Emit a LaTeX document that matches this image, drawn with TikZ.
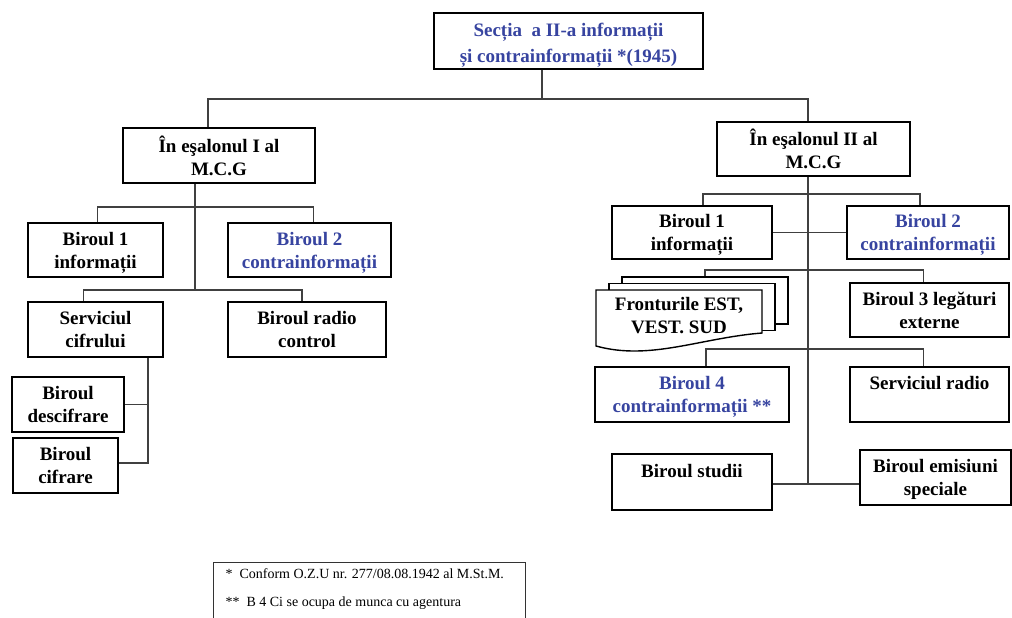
\documentclass[tikz,border=0pt]{standalone}
\usepackage{fontspec}
\setmainfont{Liberation Serif}
\definecolor{secblue}{RGB}{55,68,160}

\begin{document}
\begin{tikzpicture}[x=1pt, y=-1pt,
    every node/.style={align=center, font=\fontsize{19}{23}\selectfont\bfseries},
    unit/.style={draw, rectangle, line width=2pt, fill=white, text depth=0pt},
    ci/.style={text=secblue},
    link/.style={line width=1.1pt, draw=black!75},
    page/.style={draw, rectangle, line width=1.4pt, fill=white, minimum width=166, minimum height=47}
]
    \useasboundingbox (0,0) rectangle (1012,618);

    % Top: the section
    \node (sect) [unit, ci, minimum width=269, minimum height=56, font=\fontsize{19}{26}\selectfont\bfseries] at (568.5,41) {\rule{0pt}{17pt}Secția\ \ a II-a informații\\și contrainformații *(1945)};

    % Left: first echelon
    \node (esal1) [unit, minimum width=192, minimum height=55] at (219,155.5) {În eşalonul I al\\M.C.G};
    \node (b1L) [unit, minimum width=135, minimum height=54] at (95.5,250) {Biroul 1\\informații};
    \node (b2L) [unit, ci, minimum width=163, minimum height=54] at (309.5,250) {Biroul 2\\contrainformații};
    \node (serv) [unit, minimum width=135, minimum height=55] at (95.5,329.5) {Serviciul\\cifrului};
    \node (radioc) [unit, minimum width=158, minimum height=55] at (307,329.5) {Biroul radio\\control};
    \node (desc) [unit, minimum width=112, minimum height=55] at (68,404.5) {Biroul\\descifrare};
    \node (cifr) [unit, minimum width=105, minimum height=55] at (65.5,465.5) {Biroul\\cifrare};

    % Right: second echelon
    \node (esal2) [unit, minimum width=193, minimum height=54] at (813.5,149) {În eşalonul II al\\M.C.G};
    \node (b1R) [unit, minimum width=160, minimum height=53] at (692,232.5) {Biroul 1\\informații};
    \node (b2R) [unit, ci, minimum width=162, minimum height=53] at (928,232.5) {Biroul 2\\contrainformații};

    % Fronts: stack of pages
    \node (pageC) [page] at (705,300.5) {};
    \node (pageB) [page] at (692,307) {};
    \draw[line width=1.4pt, fill=white] (596,290) -- (762,290) -- (762,333)
        .. controls (700,338) and (650,361) .. (596,346) -- cycle;
    \node (front) [text depth=0pt] at (679,315) {Fronturile EST,\\VEST. SUD};

    \node (b3) [unit, minimum width=159, minimum height=54] at (929.5,310) {Biroul 3 legături\\externe};
    \node (b4) [unit, ci, minimum width=194, minimum height=55] at (692,394.5) {Biroul 4\\contrainformații **};
    \node (sradio) [unit, minimum width=159, minimum height=55] at (929.5,394.5) {Serviciul radio\\\mbox{}};
    \node (studii) [unit, minimum width=160, minimum height=56] at (692,482) {Biroul studii\\\mbox{}};
    \node (emis) [unit, minimum width=151, minimum height=55] at (935.5,477.5) {Biroul emisiuni\\speciale};

    % Junctions
    \coordinate (hub) at (542,99);
    \coordinate (jL) at (208,99);
    \coordinate (jR) at (808,99);
    \coordinate (jL1) at (195,207);
    \coordinate (jL2) at (195,290);
    \coordinate (jS) at (148,463);
    \coordinate (jC) at (808,484);
    \coordinate (r1) at (808,194);
    \coordinate (r2) at (808,270);
    \coordinate (r3) at (808,349);

    % Connect (top)
    \draw[link] (hub |- sect.south) -- (hub);
    \draw[link] (jL |- esal1.north) -- (jL) -- (jR) -- (jR |- esal2.north);

    % Connect (left)
    \draw[link] (jL1 |- esal1.south) -- (jL2);
    \draw[link] ([xshift=2]b1L.north) |- (jL1) -| ([xshift=4]b2L.north);
    \draw[link] ([xshift=-12]serv.north) |- (jL2) -| ([xshift=-5]radioc.north);
    \draw[link] (jS |- serv.south) -- (jS) -- (jS -| cifr.east);
    \draw[link] (desc.east) -- (desc.east -| jS);

    % Connect (right)
    \draw[link] (jR |- esal2.south) -- (jC);
    \draw[link] ([xshift=11]b1R.north) |- (r1) -| ([xshift=-8]b2R.north);
    \draw[link] (b1R) -- (b2R);
    \draw[link] (pageC.north) |- (r2) -| ([xshift=-6]b3.north);
    \draw[link] ([xshift=14]b4.north) |- (r3) -| ([xshift=-6]sradio.north);
    \draw[link] (studii.east |- jC) -- (emis.west |- jC);

    % Notes
    \node (notes) [anchor=north west, align=left, font=\fontsize{14}{28}\selectfont] at (222,565) {*\ \ Conform O.Z.U nr. 277/08.08.1942 al M.St.M.\\**\ \ B 4 Ci se ocupa de munca cu agentura};
    \draw[line width=0.9pt, black!80] (213,618) |- (525,562) -- (525,618);

\end{tikzpicture}
\end{document}
